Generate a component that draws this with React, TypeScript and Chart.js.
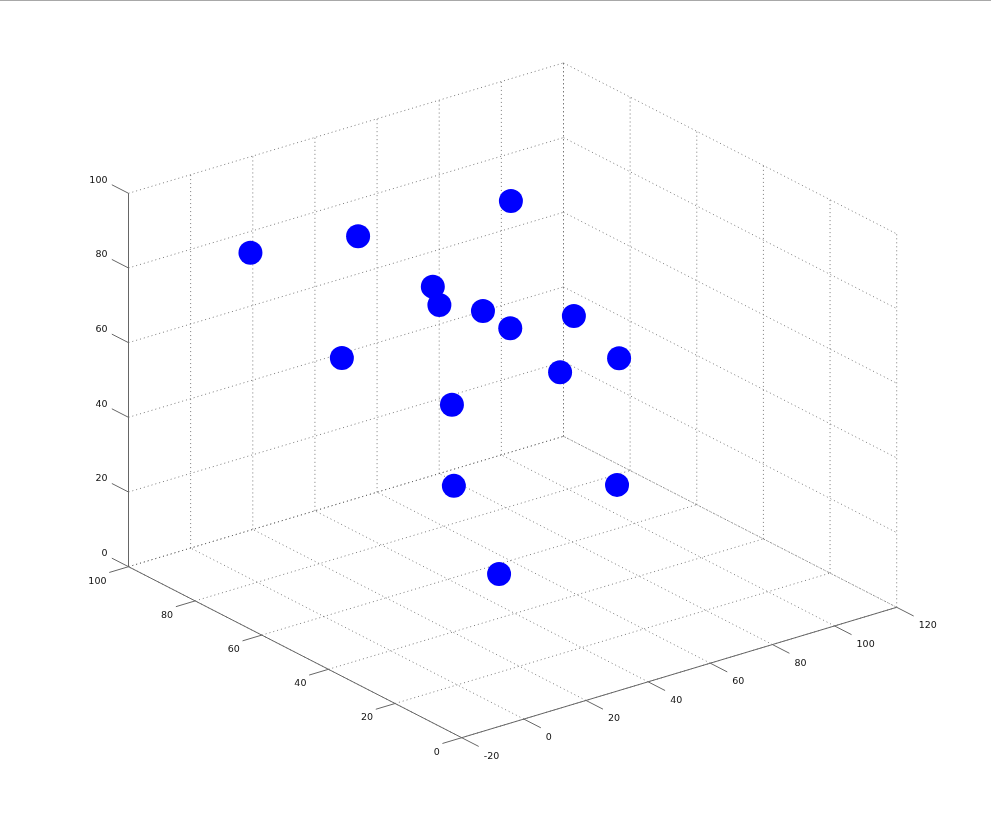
import React, { useEffect, useRef } from "react";
import { Chart, registerables } from "chart.js";

Chart.register(...registerables);

const xTicks = [-20, 0, 20, 40, 60, 80, 100, 120];
const yTicks = [0, 20, 40, 60, 80, 100];
const zTicks = [0, 20, 40, 60, 80, 100];

const xValues = [-2.2, 11, 70.9, 13.6, 31.8, 35.1, 27.8, 59, 52.1, 49.2, 16.5, 41.2, 31.1, 56.8, 24.2];
const yValues = [80, 60, 70, 40, 55, 45, 30, 40, 20, 35, 70, 60, 50, 25, 30];
const zValues = [88.8, 99.1, 89, 94.1, 77.8, 79.9, 84, 74.9, 74.5, 64.6, 60.5, 46.4, 31.8, 37.1, 19.1];

type P3 = [number, number, number];

// Orthographic view of the 3D box onto the chart's flat linear scales.
const project = ([x, y, z]: P3) => ({
  x: 461.7 + ((x + 20) * 435) / 140 - (y * 333.2) / 100,
  y: 737.7 - ((x + 20) * 130.4) / 140 - (y * 171) / 100 - (z * 373.4) / 100,
});

const X0 = xTicks[0];
const X1 = xTicks[xTicks.length - 1];
const Y0 = yTicks[0];
const Y1 = yTicks[yTicks.length - 1];
const Z0 = zTicks[0];
const Z1 = zTicks[zTicks.length - 1];

const seg = (a: P3, b: P3, color: string, dash: number[], width: number) => ({
  type: "scatter" as const,
  data: [project(a), project(b)],
  showLine: true,
  borderColor: color,
  borderWidth: width,
  borderDash: dash,
  pointRadius: 0,
  fill: false,
});

const GRID = "#5a5a5a";
const AXIS = "#666666";
const dots = [1, 3];

const gridSets = [
  ...xTicks.flatMap((x) => [
    seg([x, Y0, Z0], [x, Y1, Z0], GRID, dots, 0.8),
    seg([x, Y1, Z0], [x, Y1, Z1], GRID, dots, 0.8),
  ]),
  ...yTicks.flatMap((y) => [
    seg([X0, y, Z0], [X1, y, Z0], GRID, dots, 0.8),
    seg([X1, y, Z0], [X1, y, Z1], GRID, dots, 0.8),
  ]),
  ...zTicks.flatMap((z) => [
    seg([X0, Y1, z], [X1, Y1, z], GRID, dots, 0.8),
    seg([X1, Y1, z], [X1, Y0, z], GRID, dots, 0.8),
  ]),
];

const axisSets = [
  seg([X0, Y0, Z0], [X1, Y0, Z0], AXIS, [], 1),
  seg([X0, Y0, Z0], [X0, Y1, Z0], AXIS, [], 1),
  seg([X0, Y1, Z0], [X0, Y1, Z1], AXIS, [], 1),
  ...xTicks.map((x) => seg([x, Y0, Z0], [x, Y0 - 5.1, Z0], AXIS, [], 1)),
  ...yTicks.map((y) => seg([X0, y, Z0], [X0 - 6.2, y, Z0], AXIS, [], 1)),
  ...zTicks.map((z) => seg([X0, Y1, z], [X0, Y1 + 5, z], AXIS, [], 1)),
];

const tickLabels = {
  id: "tickLabels",
  afterDatasetsDraw(chart: any) {
    const { ctx, scales } = chart;
    const put = (p: P3, text: string, dx: number, dy: number, align: CanvasTextAlign) => {
      const q = project(p);
      ctx.textAlign = align;
      ctx.fillText(text, scales.x.getPixelForValue(q.x) + dx, scales.y.getPixelForValue(q.y) + dy);
    };
    ctx.save();
    ctx.font = '9.5px "DejaVu Sans"';
    ctx.fillStyle = "#111111";
    ctx.textBaseline = "middle";
    xTicks.forEach((x) => put([x, Y0, Z0], String(x), 22, 18.5, "left"));
    yTicks.forEach((y) => put([X0, y, Z0], String(y), -22, 14.5, "right"));
    zTicks.forEach((z) => put([X0, Y1, z], String(z), -21, -13, "right"));
    ctx.restore();
  },
};

export default function App() {
  const ref = useRef<HTMLCanvasElement>(null);
  useEffect(() => {
    document.body.style.margin = "0";
    const chart = new Chart(ref.current!, {
      type: "scatter",
      data: {
        datasets: [
          {
            data: xValues.map((x, i) => project([x, yValues[i], zValues[i]])),
            pointStyle: "circle",
            pointRadius: 12,
            pointBorderWidth: 0,
            backgroundColor: "#0000ff",
            borderColor: "#0000ff",
          },
          ...axisSets,
          ...gridSets,
        ] as any,
      },
      options: {
        responsive: false,
        animation: false,
        layout: { padding: 0, autoPadding: false },
        plugins: { legend: { display: false }, tooltip: { enabled: false } },
        scales: {
          x: { type: "linear", min: 0, max: 991, display: false },
          y: { type: "linear", min: 0, max: 829, reverse: true, display: false },
        },
      },
      plugins: [tickLabels],
    });
    return () => chart.destroy();
  }, []);
  return (
    <div style={{ position: "relative", width: 991, height: 829, overflow: "hidden", background: "#fff" }}>
      <canvas ref={ref} width={991} height={829} style={{ display: "block" }} />
      <div style={{ position: "absolute", left: 0, top: 0, width: 991, height: 1, background: "#a8a8a8" }} />
    </div>
  );
}
